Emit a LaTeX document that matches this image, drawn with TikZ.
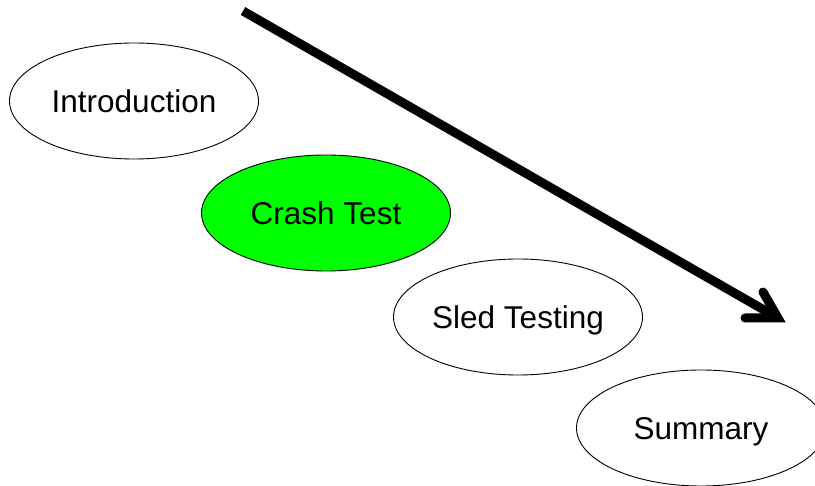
\documentclass[tikz,border=0pt]{standalone}
\usepackage{fontspec}
\setmainfont{Liberation Sans}
\usetikzlibrary{shapes.geometric}
\definecolor{brightgreen}{RGB}{0,255,0}
\begin{document}
\begin{tikzpicture}[x=1pt,y=-1pt,
  topic/.style={ellipse,draw=black,line width=0.9pt,minimum width=249pt,minimum height=116pt,
    inner sep=0pt,font=\fontsize{31.5}{36}\selectfont,text height=22.6pt,text depth=0pt,fill=white},
  shaft/.style={line width=9pt,line cap=butt,draw=black},
  headline/.style={line width=9pt,line cap=round,line join=miter,miter limit=10,draw=black}]
\useasboundingbox (0,0) rectangle (815,486);
\clip (0,0) rectangle (815,486);
\fill[white] (0,0) rectangle (815,486);
\node[topic] (intro) at (134,101) {Introduction};
\node[topic,fill=brightgreen] (crash) at (326,213) {Crash Test};
\node[topic] (sled) at (518,317) {Sled Testing};
\node[topic] (summary) at (701,428) {Summary};
\coordinate (start) at (243,11);
\coordinate (tip) at (778,318);
\coordinate (armA) at (763,292);
\coordinate (armB) at (745,318);
\draw[shaft] (start) -- (tip);
\draw[headline] (armA) -- (tip) -- (armB);
\end{tikzpicture}
\end{document}
